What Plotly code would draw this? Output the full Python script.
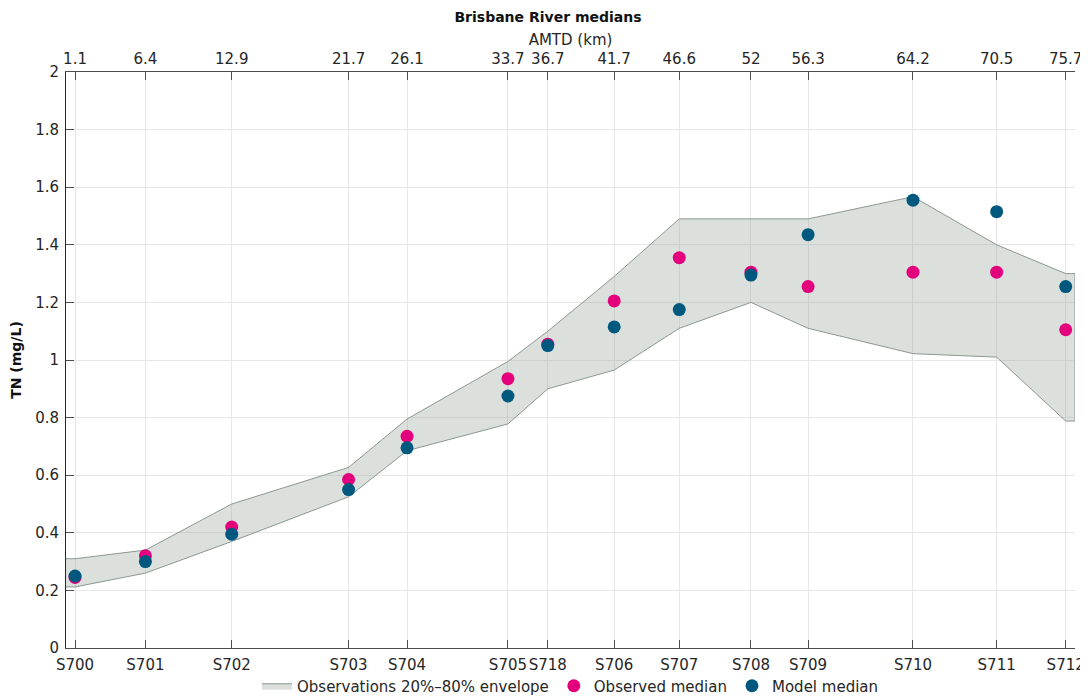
import plotly.graph_objects as go

stations = ["S700", "S701", "S702", "S703", "S704", "S705", "S718", "S706",
            "S707", "S708", "S709", "S710", "S711", "S712"]
amtd = [1.1, 6.4, 12.9, 21.7, 26.1, 33.7, 36.7, 41.7, 46.6, 52, 56.3, 64.2, 70.5, 75.7]
amtd_labels = ["1.1", "6.4", "12.9", "21.7", "26.1", "33.7", "36.7", "41.7",
               "46.6", "52", "56.3", "64.2", "70.5", "75.7"]

observed = [0.245, 0.32, 0.42, 0.585, 0.735, 0.935, 1.055, 1.205, 1.355, 1.305,
            1.255, 1.305, 1.305, 1.105]
model = [0.25, 0.30, 0.395, 0.55, 0.695, 0.875, 1.05, 1.115, 1.175, 1.295,
         1.435, 1.555, 1.515, 1.255]
env_upper = [0.31, 0.34, 0.50, 0.627, 0.795, 0.995, 1.10, 1.29, 1.49, 1.49,
             1.49, 1.567, 1.40, 1.30]
env_lower = [0.212, 0.26, 0.37, 0.525, 0.685, 0.778, 0.90, 0.965, 1.11, 1.20,
             1.11, 1.022, 1.01, 0.788]

x_range = [0.42, 76.4]

# Envelope polygon extends flat to the axis edges
ex = [x_range[0]] + amtd + [x_range[1]]
eu = [env_upper[0]] + env_upper + [env_upper[-1]]
el = [env_lower[0]] + env_lower + [env_lower[-1]]
poly_x = ex + ex[::-1]
poly_y = eu + el[::-1]

FONT = "DejaVu Sans"
TXT = "#262626"
FS = 15
W, H = 1080, 692  # page body has an 8px margin

fig = go.Figure()
fig.add_trace(go.Scatter(
    x=poly_x, y=poly_y, mode="lines", fill="toself",
    fillcolor="rgba(152,166,155,0.35)",
    line=dict(color="#8c9892", width=1),
    name="Observations 20%–80% envelope", hoverinfo="skip"))
fig.add_trace(go.Scatter(
    x=amtd, y=observed, mode="markers", name="Observed median",
    marker=dict(color="#e4007c", size=13, line=dict(width=0))))
fig.add_trace(go.Scatter(
    x=amtd, y=model, mode="markers", name="Model median",
    marker=dict(color="#00587f", size=13, line=dict(width=0))))
fig.add_trace(go.Scatter(
    x=amtd, y=[None] * len(amtd), xaxis="x2", mode="markers",
    showlegend=False, hoverinfo="skip"))

fig.update_layout(
    width=W, height=H,
    paper_bgcolor="white", plot_bgcolor="white",
    margin=dict(l=58, r=13, t=64, b=52, autoexpand=False),
    font=dict(family=FONT, size=FS, color=TXT),
    title=dict(text="<b>Brisbane River medians</b>", x=0.5, xanchor="center",
               y=1 - 9 / H, yref="container", yanchor="middle",
               font=dict(size=14, color="#111111")),
    xaxis=dict(range=x_range, tickmode="array", tickvals=amtd, ticktext=stations,
               tickangle=0, ticklabelstandoff=3,
               ticks="inside", ticklen=8, tickcolor="#4d4d4d",
               showline=True, linecolor="#4d4d4d", linewidth=1,
               showgrid=True, gridcolor="#e6e6e6", zeroline=False,
               automargin=False, tickfont=dict(size=FS, color=TXT)),
    xaxis2=dict(range=x_range, overlaying="x", side="top", tickmode="array",
                tickvals=amtd, ticktext=amtd_labels, tickangle=0,
                ticklabelstandoff=1,
                ticks="inside", ticklen=8, tickcolor="#4d4d4d",
                showline=True, linecolor="#4d4d4d", linewidth=1,
                showgrid=False, zeroline=False, automargin=False,
                title=dict(text="AMTD (km)", standoff=0, font=dict(size=FS, color=TXT)),
                tickfont=dict(size=FS, color=TXT)),
    yaxis=dict(range=[0, 2], dtick=0.2, tick0=0, ticklabelstandoff=3,
               ticks="inside", ticklen=8, tickcolor="#4d4d4d",
               showline=True, linecolor="#262626", linewidth=1,
               showgrid=True, gridcolor="#e6e6e6", zeroline=False,
               automargin=False,
               title=dict(text="<b>TN (mg/L)</b>", standoff=15,
                          font=dict(size=14, color="#111111")),
               tickfont=dict(size=FS, color=TXT)),
    legend=dict(orientation="h", x=0.5, xanchor="center", y=-0.066,
                yanchor="middle", font=dict(size=FS, color=TXT),
                bgcolor="rgba(0,0,0,0)"),
    showlegend=True,
)

fig.write_html("out.html")
